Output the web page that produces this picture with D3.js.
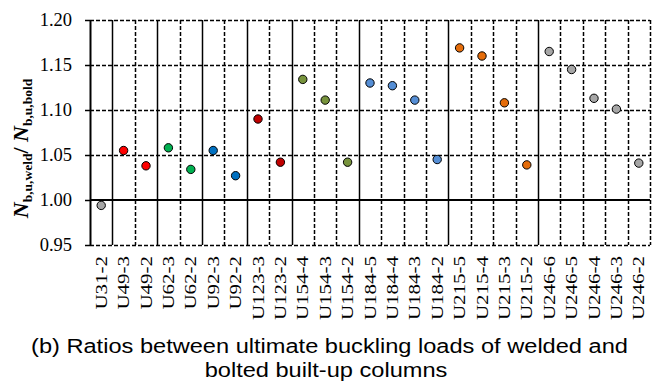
<!DOCTYPE html>
<html>
<head>
<meta charset="utf-8">
<script src="https://cdn.jsdelivr.net/npm/d3@7"></script>
<style>
  html, body { margin: 0; padding: 0; background: #fff; }
  svg { display: block; }
</style>
</head>
<body>
<svg id="chart" width="654" height="383"></svg>
<script>
// Specimens, in plotting order
const specimens = [
  "U31-2", "U49-3", "U49-2", "U62-3", "U62-2", "U92-3", "U92-2",
  "U123-3", "U123-2", "U154-4", "U154-3", "U154-2",
  "U184-5", "U184-4", "U184-3", "U184-2",
  "U215-5", "U215-4", "U215-3", "U215-2",
  "U246-6", "U246-5", "U246-4", "U246-3", "U246-2"
];

// Ratio N_b,u,weld / N_b,u,bold for each specimen
const ratios = [
  0.994, 1.055, 1.038, 1.058, 1.034, 1.055, 1.027,
  1.090, 1.042, 1.134, 1.111, 1.042,
  1.130, 1.127, 1.111, 1.045,
  1.169, 1.160, 1.108, 1.039,
  1.165, 1.145, 1.113, 1.101, 1.041
];

// Section series (U31 ... U246) and their marker colours
const sections = ["U31", "U49", "U62", "U92", "U123", "U154", "U184", "U215", "U246"];
const sectionColors = ["#A6A6A6", "#FF0000", "#00B050", "#0070C0", "#C00000",
                       "#77933C", "#558ED5", "#E46C0A", "#A6A6A6"];

const yTicks = [0.95, 1.00, 1.05, 1.10, 1.15, 1.20];

const svg = d3.select("#chart");
const x0 = 90, x1 = 650, y0 = 20, y1 = 245;

const x = d3.scaleBand().domain(specimens).range([x0, x1]).padding(0);
const y = d3.scaleLinear().domain([0.95, 1.20]).range([y1, y0]);
const color = d3.scaleOrdinal().domain(sections).range(sectionColors);
const sectionOf = s => s.split("-")[0];
const snap = v => Math.round(v) + 0.5;

const gGrid = svg.append("g");

// Dashed horizontal grid at each tick except the 1.00 reference
gGrid.append("g").selectAll("line")
  .data(yTicks.filter(t => Math.abs(t - 1) > 1e-9))
  .join("line")
  .attr("x1", x0).attr("x2", x1)
  .attr("y1", d => snap(y(d))).attr("y2", d => snap(y(d)))
  .attr("stroke", "#000").attr("stroke-width", 1.5)
  .attr("stroke-dasharray", "4,2");

// Vertical separators: solid between sections, dashed within a section
const bounds = specimens.slice(1).map((s, i) => ({
  pos: x(s),
  solid: sectionOf(s) !== sectionOf(specimens[i])
}));
bounds.push({ pos: x1, solid: false });

gGrid.append("g").selectAll("line")
  .data(bounds)
  .join("line")
  .attr("x1", d => snap(d.pos)).attr("x2", d => snap(d.pos))
  .attr("y1", y0).attr("y2", y1)
  .attr("stroke", "#000")
  .attr("stroke-width", 1.5)
  .attr("stroke-dasharray", d => d.solid ? null : "4,2");

// Reference line at ratio 1.00
svg.append("line")
  .attr("x1", x0).attr("x2", x1)
  .attr("y1", y(1.00)).attr("y2", y(1.00))
  .attr("stroke", "#000").attr("stroke-width", 2.2);

// Y axis
const yAxis = d3.axisLeft(y).tickValues(yTicks).tickFormat(d3.format(".2f"))
  .tickSizeInner(5).tickSizeOuter(0).tickPadding(13);
const gy = svg.append("g").attr("transform", `translate(${x0},0)`).call(yAxis);
gy.select(".domain").attr("stroke", "#000").attr("stroke-width", 2);
gy.selectAll(".tick line").attr("stroke", "#000").attr("stroke-width", 1.5);
gy.selectAll(".tick text")
  .attr("font-family", "'Liberation Serif', 'Times New Roman', serif")
  .attr("font-size", 18.5).attr("fill", "#000");

// Category labels, rotated and elongated along the reading direction
const labelFont = "'Liberation Serif', 'Times New Roman', serif";
const xl = svg.append("g").selectAll("text")
  .data(specimens)
  .join("text")
  .attr("transform", d => `translate(${x(d) + x.bandwidth() / 2 + 5.5},${y1 + 11}) rotate(-90)`)
  .attr("text-anchor", "end")
  .attr("font-family", labelFont)
  .attr("font-size", 16.5)
  .attr("fill", "#000")
  .text(d => d);
xl.each(function () {
  const len = this.getComputedTextLength();
  d3.select(this).attr("textLength", len * 1.27).attr("lengthAdjust", "spacingAndGlyphs");
});

// Y axis title: N_b,u,weld / N_b,u,bold
const title = svg.append("text")
  .attr("transform", `translate(28,${(y0 + y1) / 2 + 16}) rotate(-90)`)
  .attr("text-anchor", "middle")
  .attr("font-family", labelFont)
  .attr("font-weight", "bold")
  .attr("fill", "#000");
title.append("tspan").attr("font-size", 22).attr("font-style", "italic").text("N");
title.append("tspan").attr("font-size", 13.5).attr("dy", 4).text("b,u,weld");
title.append("tspan").attr("font-size", 22).attr("dy", -4).text("/ ");
title.append("tspan").attr("font-size", 22).attr("font-style", "italic").text("N");
title.append("tspan").attr("font-size", 13.5).attr("dy", 4).text("b,u,bold");

// Data points
svg.append("g").selectAll("circle")
  .data(specimens.map((s, i) => ({ s, v: ratios[i] })))
  .join("circle")
  .attr("cx", d => x(d.s) + x.bandwidth() / 2)
  .attr("cy", d => y(d.v))
  .attr("r", 4.2)
  .attr("fill", d => color(sectionOf(d.s)))
  .attr("stroke", "#000")
  .attr("stroke-width", 1);

// Caption, two centred lines
const caption = svg.append("g")
  .attr("font-family", "'Liberation Sans', Arial, sans-serif")
  .attr("font-size", 20)
  .attr("fill", "#000");
const captionLines = [
  { text: "(b) Ratios between ultimate buckling loads of welded and", cx: 329.5, y: 353 },
  { text: "bolted built-up columns", cx: 326, y: 377 }
];
caption.selectAll("text")
  .data(captionLines)
  .join("text")
  .attr("x", d => d.cx).attr("y", d => d.y)
  .attr("text-anchor", "middle")
  .text(d => d.text)
  .each(function () {
    const len = this.getComputedTextLength();
    d3.select(this).attr("textLength", len * 1.18).attr("lengthAdjust", "spacingAndGlyphs");
  });
</script>
</body>
</html>
